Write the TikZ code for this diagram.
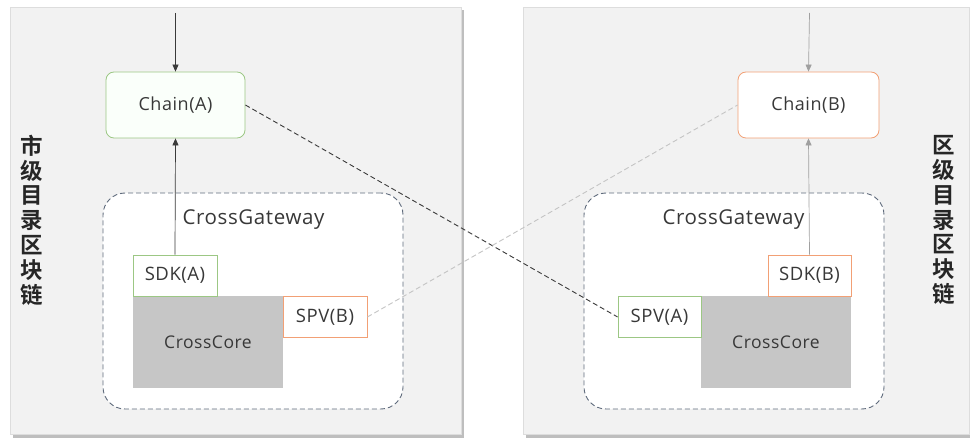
\documentclass[tikz,border=0pt]{standalone}
\usepackage{fontspec}
\setmainfont{Open Sans}[LetterSpace=3]
\newfontfamily\cjk{Noto Sans CJK SC}[BoldFont={Noto Sans CJK SC Bold}]
\usetikzlibrary{arrows.meta}
\definecolor{panelfill}{HTML}{F2F2F2}
\definecolor{panelline}{HTML}{DDDDDD}
\definecolor{shadowc}{HTML}{BEBEBE}
\definecolor{greenline}{HTML}{9CC784}
\definecolor{orangeline}{HTML}{F2A075}
\definecolor{gwline}{HTML}{5F6B7C}
\definecolor{corefill}{HTML}{C6C6C6}
\definecolor{txt}{HTML}{383838}
\definecolor{darkline}{HTML}{3A3A3A}
\definecolor{lightline}{HTML}{C4C4C4}
\definecolor{grayarrow}{HTML}{A0A0A0}
\tikzset{
  chainbox/.style={draw, line width=0.8pt, rounded corners=8pt, fill=white, minimum width=#1, minimum height=66pt, inner sep=0pt, text=txt, font=\fontsize{18}{20}\selectfont},
  gateway/.style={draw=gwline, dash pattern=on 5pt off 3pt, line width=0.9pt, rounded corners=22pt, fill=white, minimum width=300pt, minimum height=216pt, inner sep=0pt},
  smallbox/.style={draw, line width=0.8pt, fill=white, minimum width=#1, minimum height=41pt, inner sep=0pt, text=txt, font=\fontsize{18.5}{20}\selectfont},
  corebox/.style={fill=corefill, minimum width=150pt, minimum height=92pt, inner sep=0pt, text=txt, font=\fontsize{17.5}{20}\selectfont},
  gwlabel/.style={text=txt, font=\fontsize{20.5}{22}\selectfont, inner sep=0pt},
  vlabel/.style={align=center, font=\cjk\bfseries\fontsize{22.5}{24.8}\selectfont, inner sep=0pt, text=black!85},
  arr/.style={-{Triangle[length=7pt,width=6pt]}, line width=0.7pt},
}
\begin{document}
\begin{tikzpicture}[x=1pt,y=-1pt]
\useasboundingbox (0,0) rectangle (970,441);
\fill[white] (0,0) rectangle (970,441);
% panels
\fill[shadowc] (13,10) rectangle (464,438);
\fill[panelfill, draw=panelline] (10,7) rectangle (461,434);
\fill[shadowc] (526,10) rectangle (972,438);
\fill[panelfill, draw=panelline] (523,7) rectangle (969,434);
% vertical labels
\node[vlabel] (lblA) at (32,220) {市\\级\\目\\录\\区\\块\\链};
\node[vlabel] (lblB) at (944,220) {区\\级\\目\\录\\区\\块\\链};
% left side
\node[chainbox=139pt, draw=greenline, fill=green!2] (chainA) at (175.5,105) {Chain(A)};
\node[gateway] (gwA) at (253,301) {};
\node[gwlabel] (gwAt) at (253.5,220) {CrossGateway};
\node[corebox] (coreA) at (208,342) {CrossCore};
\node[smallbox=84pt, draw=greenline] (sdkA) at (175,275.5) {SDK(A)};
\node[smallbox=84pt, draw=orangeline] (spvB) at (325,317) {SPV(B)};
% right side
\node[chainbox=141pt, draw=orangeline] (chainB) at (808.5,105) {Chain(B)};
\node[gateway] (gwB) at (734,301) {};
\node[gwlabel] (gwBt) at (733.5,220) {CrossGateway};
\node[corebox] (coreB) at (776,342) {CrossCore};
\node[smallbox=83pt, draw=orangeline] (sdkB) at (809.5,275.5) {SDK(B)};
\node[smallbox=83pt, draw=greenline] (spvA) at (659.5,317) {SPV(A)};
% arrows
\coordinate (topA) at (175.5,13);
\coordinate (topB) at (809.5,13);
\draw[arr, darkline] (topA) -- (chainA.north);
\draw[arr, darkline] (sdkA.north) -- (chainA.south);
\draw[arr, grayarrow] (topB) -- (chainB.north);
\draw[arr, grayarrow] (sdkB.north) -- (chainB.south);
% cross links
\draw[darkline, line width=0.9pt, dash pattern=on 5pt off 3pt] (chainA.east) -- (spvA.west);
\draw[lightline, line width=0.9pt, dash pattern=on 5pt off 3pt] (spvB.east) -- (chainB.west);
\end{tikzpicture}
\end{document}
